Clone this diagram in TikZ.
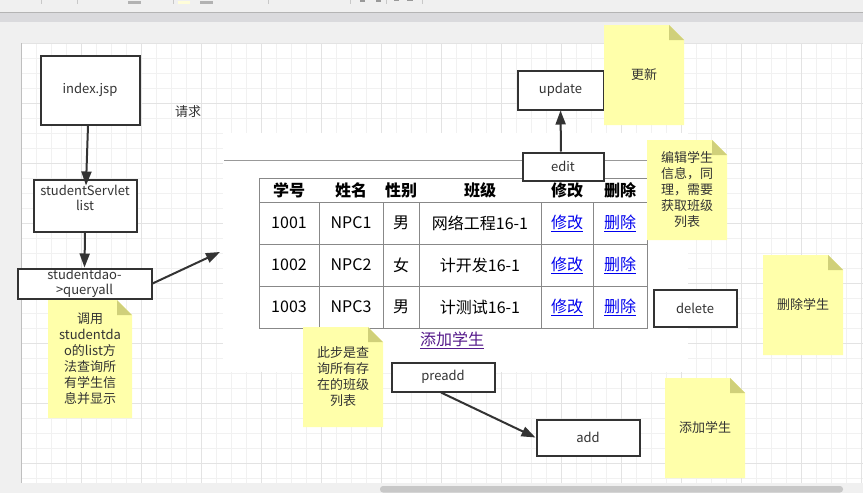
\documentclass[tikz,border=0pt]{standalone}
\usepackage{fontspec}
\setmainfont{Noto Sans CJK SC}
\usetikzlibrary{arrows.meta,calc}
\definecolor{bggray}{HTML}{F0F0F0}
\definecolor{bandgray}{HTML}{DADADD}
\definecolor{bandline}{HTML}{B4B4B4}
\definecolor{gridminor}{HTML}{F1F1F1}
\definecolor{gridmajor}{HTML}{E3E3E3}
\definecolor{boxc}{HTML}{333333}
\definecolor{txt}{HTML}{333333}
\definecolor{tblline}{HTML}{888888}
\definecolor{linkblue}{HTML}{0000EE}
\definecolor{linkpurple}{HTML}{551A8B}
\definecolor{notey}{HTML}{FFFFAA}
\definecolor{notefold}{HTML}{D0D07A}
\definecolor{scroll}{HTML}{C8C8C8}
\newcommand\mynote[6]{%
  \fill[notey] (#2,#3) -- (#4-15,#3) -- (#4,#3+15) -- (#4,#5) -- (#2,#5) -- cycle;
  \fill[notefold] (#4-15,#3) -- (#4,#3+15) -- (#4-15,#3+15) -- cycle;
  \node[notetext] (#1) at ({(#2+#4)/2},{(#3+#5)/2}) {#6};}
\begin{document}
\begin{tikzpicture}[x=1pt,y=-1pt,
  box/.style={draw=boxc, line width=2pt, fill=white, inner sep=0pt,
    font=\fontsize{13}{15}\selectfont, text=txt, align=center},
  arr/.style={draw=boxc, line width=2pt, -{Triangle[length=14pt,width=10pt]}},
  cell/.style={draw=tblline, line width=1pt, minimum height=42pt, inner sep=0pt,
    font=\fontsize{16}{18}\selectfont, text=black},
  hdr/.style={font=\fontsize{16}{18}\selectfont\bfseries, text=black, inner sep=0pt},
  notetext/.style={font=\fontsize{13}{16}\selectfont, text=txt, align=center, inner sep=0pt},
  plain/.style={font=\fontsize{13}{15}\selectfont, text=txt, inner sep=0pt}]
\useasboundingbox (0,0) rectangle (863,493);
% window background
\fill[bggray] (0,0) rectangle (863,493);
\fill[bandgray] (0,12) rectangle (863,22);
\draw[bandline, line width=1pt] (0,12.5) -- (863,12.5);
\foreach \x in {41,77,173,268,350,386,422} \draw[scroll, line width=0.8pt] (\x,0) -- (\x,4);
\fill[gray!60] (128,1) rectangle (141,4);
\fill[gray!60] (200,1) rectangle (213,4);
\fill[yellow!15] (178,1) rectangle (190,4);
\fill[gray!80] (360,0) rectangle (365,2);
\fill[gray!80] (376,0) rectangle (381,2);
\fill[gray!80] (394,0) rectangle (399,1.2);
\fill[gray!80] (407,0) rectangle (413,1.2);
% page with grid
\fill[white] (21.5,43) rectangle (863,483);
\foreach \i in {0,...,56} \draw[gridminor, line width=1pt] (21.5+15*\i,43) -- (21.5+15*\i,483);
\foreach \j in {0,...,29} \draw[gridminor, line width=1pt] (21.5,43+15*\j) -- (863,43+15*\j);
\foreach \i in {0,...,14} \draw[gridmajor, line width=1pt] (21.5+60*\i,43) -- (21.5+60*\i,483);
\foreach \j in {0,...,7} \draw[gridmajor, line width=1pt] (21.5,43+60*\j) -- (863,43+60*\j);
\draw[gray!50, line width=0.8pt] (21,43) -- (21,483);
% scrollbar
\fill[scroll, rounded corners=3pt] (380,486) rectangle (843,492.5);
% embedded page area
\fill[white] (223,133) rectangle (688,372);
\draw[gray!80, line width=1pt] (224,160) -- (647,160);
% table
\node[draw=tblline, line width=1pt, minimum width=388pt, minimum height=24pt, inner sep=0pt] (thead) at (453,190) {};
\node[hdr] (h1) at (289,190) {学号};
\node[hdr] (h2) at (351,190) {姓名};
\node[hdr] (h3) at (401,190) {性别};
\node[hdr] (h4) at (480,190) {班级};
\node[hdr] (h5) at (567,190) {修改};
\node[hdr] (h6) at (620,190) {删除};
\foreach \r/\y/\id/\nm/\sx/\cls in {1/223/1001/NPC1/男/网络工程16-1,
    2/265/1002/NPC2/女/计开发16-1, 3/307/1003/NPC3/男/计测试16-1} {
  \node[cell, minimum width=60pt] (r\r-c1) at (289,\y) {\id};
  \node[cell, minimum width=64pt] (r\r-c2) at (351,\y) {\nm};
  \node[cell, minimum width=36pt] (r\r-c3) at (401,\y) {\sx};
  \node[cell, minimum width=122pt] (r\r-c4) at (480,\y) {\cls};
  \node[cell, minimum width=52pt, text=linkblue] (r\r-c5) at (567,\y) {\underline{修改}};
  \node[cell, minimum width=54pt, text=linkblue] (r\r-c6) at (620,\y) {\underline{删除}};
}
\node[font=\fontsize{16}{18}\selectfont, text=linkpurple, inner sep=0pt] (addlink) at (452,340) {\underline{添加学生}};
% boxes
\node[box, minimum width=99pt, minimum height=69pt] (index) at (90,90) {index.jsp};
\node[box, minimum width=103pt, minimum height=52pt] (servlet) at (85,205.5) {studentServlet\\list\\~};
\node[box, minimum width=134pt, minimum height=30pt] (dao) at (84.5,283.5) {studentdao-\\>queryall};
\node[box, minimum width=81pt, minimum height=28pt] (edit) at (563,166.5) {edit};
\node[box, minimum width=86pt, minimum height=39pt] (update) at (560.5,90) {update};
\node[box, minimum width=83pt, minimum height=37pt] (delete) at (695,308) {delete};
\node[box, minimum width=103pt, minimum height=29pt] (preadd) at (443,377) {preadd};
\node[box, minimum width=103pt, minimum height=36pt] (add) at (588,437.5) {add};
\node[plain] (req) at (188,112) {请求};
% connectors
\coordinate (daoend) at (220,252);
\draw[arr] ([xshift=-2pt]index.south) -- ([xshift=1pt,yshift=-7pt]servlet.north);
\draw[arr] (servlet.south) -- (dao.north);
\draw[arr] (dao.east) -- (daoend);
\draw[arr] ([xshift=-2pt]edit.north) -- (update.south);
\draw[arr] ([xshift=-2pt]preadd.south) -- (add.west);
% notes
\mynote{n1}{48}{300}{132}{418}{调用\\studentda\\o的list方\\法查询所\\有学生信\\息并显示}
\mynote{n2}{604}{25}{684}{125}{更新}
\mynote{n3}{647}{140}{727}{240}{编辑学生\\信息，同\\理，需要\\获取班级\\列表}
\mynote{n4}{763}{255}{843}{355}{删除学生}
\mynote{n5}{665}{378}{745}{478}{添加学生}
\mynote{n6}{303}{327}{383}{427}{此步是查\\询所有存\\在的班级\\列表}
\end{tikzpicture}
\end{document}
